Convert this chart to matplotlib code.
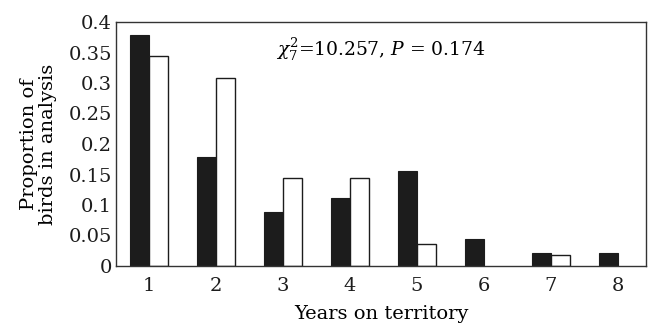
import numpy as np
import matplotlib.pyplot as plt

plt.rcParams['font.family'] = ['DejaVu Serif']
plt.rcParams['mathtext.fontset'] = 'dejavuserif'

years = [1, 2, 3, 4, 5, 6, 7, 8]
black_vals = [0.378, 0.178, 0.089, 0.111, 0.156, 0.044, 0.022, 0.022]
white_vals = [0.345, 0.309, 0.145, 0.145, 0.036, 0.0, 0.018, 0.0]
yticks = [0, 0.05, 0.1, 0.15, 0.2, 0.25, 0.3, 0.35, 0.4]
ytick_labels = ['0', '0.05', '0.1', '0.15', '0.2', '0.25', '0.3', '0.35', '0.4']

fig = plt.figure(figsize=(6.51, 3.25), dpi=100)
ax = fig.add_axes([116 / 651, 1 - 266 / 325, 530 / 651, 244 / 325])

x = np.array(years)
w = 0.29
ax.bar(x - w / 2, black_vals, width=w, color='#1c1c1c', edgecolor='#1c1c1c', linewidth=0.8)
# zero-height bars skipped so no stray edge line sits on the axis
wx = [xi for xi, v in zip(x, white_vals) if v > 0]
wv = [v for v in white_vals if v > 0]
ax.bar(np.array(wx) + w / 2, wv, width=w, color='white', edgecolor='#1c1c1c', linewidth=1.0)

ax.set_xlim(0.507, 8.418)
ax.set_ylim(0, 0.4)
ax.set_xticks(years)
ax.set_yticks(yticks)
ax.set_yticklabels(ytick_labels)
ax.tick_params(length=0, labelsize=14, colors='#1c1c1c')
ax.tick_params(axis='x', pad=8)
ax.tick_params(axis='y', pad=3)
for s in ax.spines.values():
    s.set_color('#333333')
    s.set_linewidth(1.0)

ax.set_ylabel('Proportion of\nbirds in analysis', fontsize=14, linespacing=1.1, labelpad=8)
ax.set_xlabel('Years on territory', fontsize=14, labelpad=7)

ax.text(2.9, 0.354, r'$\chi^2_7$=10.257, $P$ = 0.174', fontsize=13.5, va='center', ha='left')

fig.savefig('out.png', dpi=100)
